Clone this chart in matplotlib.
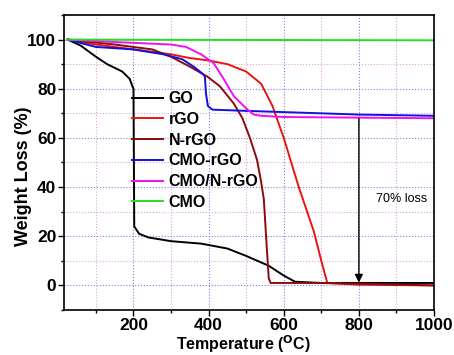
import numpy as np
import matplotlib
matplotlib.use('Agg')
import matplotlib.pyplot as plt
from matplotlib.ticker import MultipleLocator

# TGA curves (temperature in C, weight %)
go_t = [25, 60, 100, 130, 170, 190, 197, 200, 202, 215, 240, 300, 380, 450, 500, 560, 600, 630, 700, 1000]
go_w = [100, 97.5, 93, 90, 87, 84, 81, 80, 24, 21, 19.5, 18, 17, 15, 12, 8, 4, 1.5, 1, 1]

rgo_t = [25, 100, 200, 300, 350, 400, 450, 500, 540, 570, 600, 640, 680, 700, 716, 800, 1000]
rgo_w = [100, 98, 96, 94, 92.5, 91.5, 90, 87, 82, 73, 60, 40, 22, 10, 1, 0.3, 0]

nrgo_t = [25, 150, 250, 300, 350, 396, 430, 467, 490, 510, 529, 540, 547, 555, 560, 565, 700, 1000]
nrgo_w = [100, 98, 96, 93, 89, 85, 81, 74, 68, 60, 51, 42, 35, 15, 3, 1, 1, 0]

cmorgo_t = [25, 100, 200, 280, 330, 360, 385, 390, 393, 398, 410, 500, 700, 800, 1000]
cmorgo_w = [100, 97, 96, 94, 92, 89, 86, 85, 78, 73, 71.5, 71, 70, 69.5, 69]

cmonrgo_t = [25, 150, 300, 340, 380, 413, 440, 467, 500, 520, 540, 600, 1000]
cmonrgo_w = [100, 99, 98, 97, 94, 90.5, 84, 77, 72, 69.5, 69, 68.5, 68]

cmo_t = [25, 1000]
cmo_w = [100, 99.7]

series = [
    ('GO', go_t, go_w, 'black'),
    ('rGO', rgo_t, rgo_w, '#e8150f'),
    ('N-rGO', nrgo_t, nrgo_w, '#8b0a0a'),
    ('CMO-rGO', cmorgo_t, cmorgo_w, '#1010e0'),
    ('CMO/N-rGO', cmonrgo_t, cmonrgo_w, '#f010f0'),
    ('CMO', cmo_t, cmo_w, '#20e020'),
]

plt.rcParams['font.family'] = ['Liberation Sans', 'DejaVu Sans']
plt.rcParams['font.weight'] = 'bold'

fig = plt.figure(figsize=(4.54, 3.55), dpi=100)
ax = fig.add_axes([64 / 454, 1 - 310 / 355, 370 / 454, 295 / 355])

for name, t, w, c in series:
    ax.plot(t, w, color=c, lw=1.4, label=name)

ax.set_xlim(15, 1000)
ax.set_ylim(-10, 110)
ax.xaxis.set_major_locator(MultipleLocator(200))
ax.xaxis.set_minor_locator(MultipleLocator(100))
ax.yaxis.set_major_locator(MultipleLocator(20))
ax.yaxis.set_minor_locator(MultipleLocator(10))
ax.set_yticks([0, 20, 40, 60, 80, 100])
ax.grid(which='major', color='#8080e0', ls=':', lw=0.8)
ax.grid(which='minor', color='#e0a0e0', ls=':', lw=0.8)
ax.tick_params(which='major', length=4, width=1, labelsize=12.5, pad=1.5)
ax.tick_params(which='minor', length=2.5, width=1)
for s in ax.spines.values():
    s.set_linewidth(1.2)

ax.set_xlabel('Temperature ($^{\\mathbf{O}}$C)', fontsize=11.5, fontweight='bold')
ax.set_ylabel('Weight Loss (%)', fontsize=13, fontweight='bold')
ax.xaxis.set_label_coords(0.486, -0.079)
ax.yaxis.set_label_coords(-0.086, 0.4525)

ax.annotate('', xy=(800, 0), xytext=(800, 69),
            arrowprops=dict(arrowstyle='-|>', color='black', lw=1.0, mutation_scale=12))
ax.text(914, 35, '70% loss', fontsize=9, ha='center', va='center', fontweight='normal')

ax.legend(loc='upper left', bbox_to_anchor=(0.185, 0.742), frameon=False,
          fontsize=11.5, handlelength=1.9, handletextpad=0.35, labelspacing=0.36,
          borderaxespad=0, borderpad=0)

fig.savefig('out.png', dpi=100)
